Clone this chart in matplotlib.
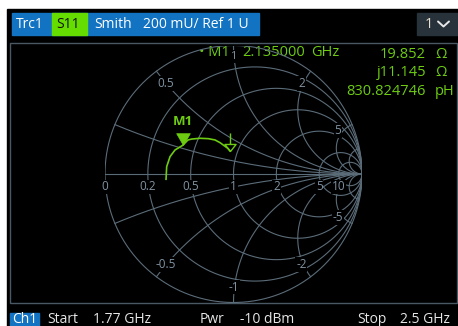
import numpy as np
import matplotlib.pyplot as plt
from matplotlib.path import Path
from matplotlib.patches import Rectangle

plt.rcParams['font.family'] = ['Open Sans', 'DejaVu Sans']

# Smith grid: constant resistance circles and reactance arcs (normalised)
r_circles = [0, 0.2, 0.5, 1, 2, 5, 10]
x_arcs = [0.2, 0.5, 1, 2, 5, 10]
real_label_vals = [0, 0.2, 0.5, 1, 2, 5, 10]
real_labels = ['0', '0.2', '0.5', '1', '2', '5', '10']
imag_label_vals = [0.5, 1, 2, 5, -0.5, -1, -2, -5]
imag_labels = ['0.5', '1', '2', '5', '-0.5', '-1', '-2', '-5']

# S11 trace as reflection coefficient (real / imag), 1.77 GHz -> 2.5 GHz
trace_re = [-0.525, -0.520, -0.494, -0.455, -0.396, -0.354, -0.325, -0.261,
            -0.196, -0.144, -0.105, -0.072, -0.045, -0.027]
trace_im = [-0.041, 0.057, 0.135, 0.187, 0.223, 0.265, 0.272, 0.278,
            0.275, 0.265, 0.244, 0.220, 0.200, 0.179]

# marker M1 readout
z0 = 50.0
m1_freq = '2.135000'
m1_r = 19.852
m1_x = 11.145
m1_l = '830.824746'

grid_col = '#5b6c79'
lbl_col = '#8093a3'
green = '#6dcc12'
bar_blue = '#1273c2'

fig = plt.figure(figsize=(4.58, 3.26), dpi=100, facecolor='white')

# screen background, header and footer bars (pixel coordinates)
bg = fig.add_axes([0, 0, 1, 1])
bg.set_xlim(0, 458)
bg.set_ylim(326, 0)
bg.axis('off')
bg.add_patch(Rectangle((7, 9), 451, 317, color='black', zorder=0))
bg.add_patch(Rectangle((12, 13), 247, 22, color=bar_blue, zorder=1))
bg.add_patch(Rectangle((52, 13), 35, 22, color='#66dd00', zorder=2))
bg.add_patch(Rectangle((417, 13), 41, 22, color='#28323a', zorder=1))
bg.add_patch(Rectangle((10, 43), 447, 260, fill=False, ec='#4a5864', lw=1.0, zorder=1))
bg.add_patch(Rectangle((10, 313), 29, 13, color=bar_blue, zorder=1))

hdr = dict(fontsize=10, va='center', color='white', zorder=3)
bg.text(16, 24, 'Trc1', **hdr)
bg.text(56, 24, 'S11', fontsize=10, va='center', color='#111111', zorder=3)
bg.text(94, 24, 'Smith', **hdr)
bg.text(143, 24, '200 mU/ Ref 1 U', **hdr)
bg.text(425, 24, '1', fontsize=10.5, va='center', color='#eadfd2', zorder=3)
# drop-down chevron
bg.plot([438, 443.5, 449], [21.5, 26.5, 21.5], color='#e8e8e8', lw=1.4,
        solid_capstyle='round', zorder=3)

ftr = dict(fontsize=10, va='center', color='#e6e6e6', zorder=3)
bg.text(12, 319.5, 'Ch1', fontsize=10, va='center', color='white', zorder=3)
bg.text(47, 319.5, 'Start', **ftr)
bg.text(93, 319.5, '1.77 GHz', **ftr)
bg.text(200, 319.5, 'Pwr', **ftr)
bg.text(240, 319.5, '-10 dBm', **ftr)
bg.text(357, 319.5, 'Stop', **ftr)
bg.text(400, 319.5, '2.5 GHz', **ftr)

# Smith chart axes, unit circle fills the box
ax = fig.add_axes([105 / 458, 1 - 302.5 / 326, 257 / 458, 257 / 326])
ax.set_xlim(-1, 1)
ax.set_ylim(-1, 1)
ax.axis('off')
ax.patch.set_alpha(0)

t = np.linspace(0, 2 * np.pi, 600)
for r in r_circles:
    c = r / (1 + r)
    rad = 1 / (1 + r)
    ax.plot(c + rad * np.cos(t), rad * np.sin(t), color=grid_col, lw=0.8, zorder=1)

rr = np.concatenate([[0], np.geomspace(1e-3, 1e4, 800)])
for x in x_arcs:
    for s in (1, -1):
        g = (rr + 1j * s * x - 1) / (rr + 1j * s * x + 1)
        ax.plot(g.real, g.imag, color=grid_col, lw=0.8, zorder=1)
ax.plot([-1, 1], [0, 0], color=grid_col, lw=0.8, zorder=1)

box = dict(facecolor='black', edgecolor='none', pad=0.6)
for v, s in zip(real_label_vals, real_labels):
    g = (v - 1) / (v + 1)
    ax.text(g, -0.1, s, fontsize=8.5, color=lbl_col, ha='center', va='center',
            bbox=box, zorder=3, clip_on=False)
for v, s in zip(imag_label_vals, imag_labels):
    # the +1 label sits higher, tucked between the marker readout words
    k = 0.915 if v == 1 else 0.88
    g = (1j * v - 1) / (1j * v + 1) * k
    ax.text(g.real, g.imag, s, fontsize=8 if v == 1 else 8.5, color=lbl_col,
            ha='center', va='center', bbox=box, zorder=3)

# trace
ax.plot(trace_re, trace_im, color=green, lw=1.2, zorder=4, solid_joinstyle='round')

# stop marker: open triangle with stem, tip on the last point
stop_path = Path([(-0.79, 1), (0.79, 1), (0, 0), (-0.79, 1), (0, 1), (0, 2.57)],
                 [Path.MOVETO, Path.LINETO, Path.LINETO, Path.CLOSEPOLY,
                  Path.MOVETO, Path.LINETO])
ax.plot(trace_re[-1], trace_im[-1], marker=stop_path, markersize=26, mfc='none',
        mec=green, mew=1.0, zorder=5)

# M1 marker
zm = complex(m1_r, m1_x) / z0
gm = (zm - 1) / (zm + 1)
m1_path = Path([(-0.58, 1), (0.58, 1), (0, 0), (-0.58, 1)],
               [Path.MOVETO, Path.LINETO, Path.LINETO, Path.CLOSEPOLY])
ax.plot(gm.real, gm.imag, marker=m1_path, markersize=17, mfc=green, mec=green,
        mew=0.5, zorder=5)
ax.annotate('M1', (gm.real, gm.imag), xytext=(0, 17), textcoords='offset points',
            ha='center', va='center', fontsize=9.5, fontweight='bold', color=green,
            zorder=6)

# marker readout
rd = dict(fontsize=10.5, va='center', color=green, zorder=6)
bg.text(199, 53, '\u2022 M1', **rd)
bg.text(242, 53, m1_freq, **rd)
bg.text(311, 53, 'GHz', **rd)
bg.text(426, 55, f'{m1_r:.3f}', ha='right', **rd)
bg.text(435, 55, '\u03a9', **rd)
bg.text(426, 73, f'j{m1_x:.3f}', ha='right', **rd)
bg.text(435, 73, '\u03a9', **rd)
bg.text(426, 91.5, m1_l, ha='right', **rd)
bg.text(435, 91.5, 'pH', **rd)

fig.savefig('out.png', dpi=100, facecolor=fig.get_facecolor())
